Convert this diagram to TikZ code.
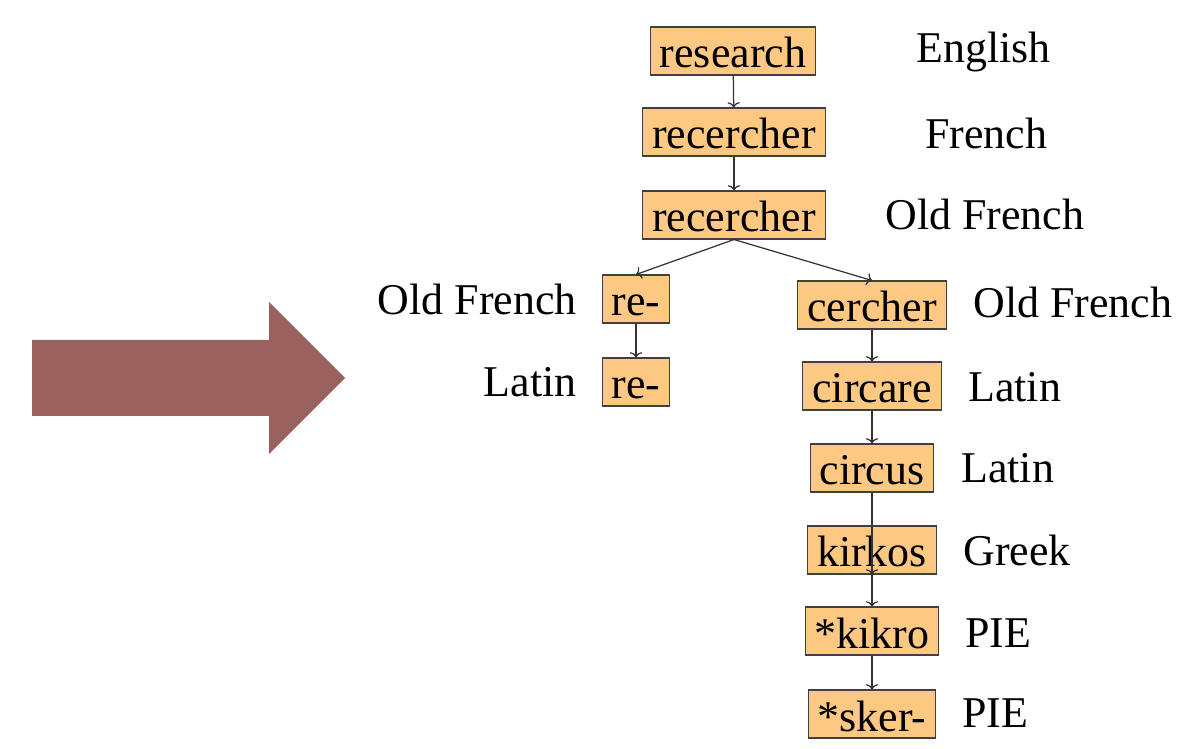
\documentclass[tikz,border=0pt]{standalone}
\usepackage{fontspec}
\setmainfont{Liberation Serif}
\usetikzlibrary{arrows.meta}

\definecolor{wordfill}{HTML}{FDC882}
\definecolor{bigarrow}{HTML}{9B615F}

\begin{document}
\begin{tikzpicture}[x=0.02cm, y=-0.02cm,
        word/.style={rectangle, draw=black!75, fill=wordfill, line width=0.6pt, inner xsep=0.19cm, inner ysep=0.06cm, text height=0.76cm, text depth=0.08cm, font=\fontsize{25}{30}\selectfont},
        lang/.style={inner sep=0pt, font=\fontsize{25}{30}\selectfont},
        link/.style={draw=black!80, line width=0.7pt, -{To[length=3pt, width=7pt]}}]
        \useasboundingbox (0, 0) rectangle (1179, 749);

        % big arrow on the left
        \fill[bigarrow] (32, 340) -- (269, 340) -- (269, 302) -- (345, 378) -- (269, 454) -- (269, 416) -- (32, 416) -- cycle;

        \node[word] (research) at (733, 51) {research};
        \node[word] (recA) at (734, 132) {recercher};
        \node[word] (recB) at (734, 215) {recercher};
        \node[word] (reA) at (636, 299) {re-};
        \node[word] (reB) at (636, 382) {re-};
        \node[word] (cercher) at (872, 305) {cercher};
        \node[word] (circare) at (872, 386) {circare};
        \node[word] (circus) at (872, 468) {circus};
        \node[word] (kirkos) at (872, 550) {kirkos};
        \node[word] (kikro) at (872, 631) {*kikro};
        \node[word] (sker) at (872, 714) {*sker-};

        \node[lang, anchor=base west] (lEnglish) at (916, 63) {English};
        \node[lang, anchor=base west] (lFrench) at (925, 149) {French};
        \node[lang, anchor=base west] (lOldFrA) at (885, 230) {Old French};
        \node[lang, anchor=base east] (lOldFrB) at (577, 315) {Old French};
        \node[lang, anchor=base east] (lLatinA) at (577, 397) {Latin};
        \node[lang, anchor=base west] (lOldFrC) at (973, 318) {Old French};
        \node[lang, anchor=base west] (lLatinB) at (968, 402) {Latin};
        \node[lang, anchor=base west] (lLatinC) at (961, 482) {Latin};
        \node[lang, anchor=base west] (lGreek) at (963, 565) {Greek};
        \node[lang, anchor=base west] (lPIEA) at (965, 647) {PIE};
        \node[lang, anchor=base west] (lPIEB) at (962, 727) {PIE};

        \draw[link] (research) -- (recA);
        \draw[link] (recA) -- (recB);
        \draw[link] (recB.south) -- (reA.north);
        \draw[link] (recB.south) -- (cercher.north);
        \draw[link] (reA) -- (reB);
        \draw[link] (cercher) -- (circare);
        \draw[link] (circare) -- (circus);
        \draw[link] (circus.south) -- (kirkos.south);
        \draw[link] (kirkos.south) -- (kikro.north);
        \draw[link] (kikro) -- (sker);
    \end{tikzpicture}
\end{document}
